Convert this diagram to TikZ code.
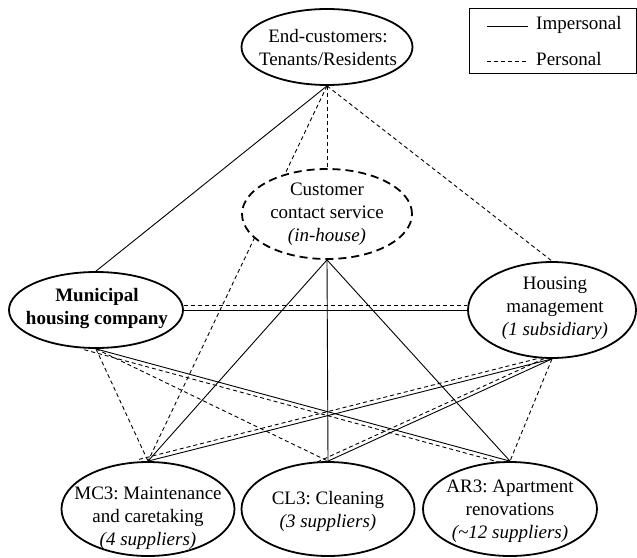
\documentclass[tikz,border=0pt]{standalone}
\usepackage{fontspec}
\setmainfont{Liberation Serif}
\usetikzlibrary{shapes.geometric,backgrounds,calc}
\frenchspacing
\begin{document}
\begin{tikzpicture}[x=1pt,y=-1pt,
  actor/.style={ellipse, draw, line width=1.8pt, fill=white, inner sep=0pt},
  inhouse/.style={actor, dash pattern=on 8pt off 5pt},
  lbl/.style={align=center, inner sep=0pt, font=\fontsize{19}{23}\selectfont},
  impersonal/.style={line width=0.9pt},
  personal/.style={line width=0.9pt, dash pattern=on 4pt off 3pt},
  pair/.style={shorten <=-12pt, shorten >=-12pt}]
\useasboundingbox (0,0) rectangle (637,557);

% actors
\node[actor, minimum width=171pt, minimum height=76pt] (ec) at (327,47) {};
\node[inhouse, minimum width=170pt, minimum height=90pt] (ccs) at (327,214) {};
\node[actor, minimum width=174pt, minimum height=76pt] (mhc) at (96,310) {};
\node[actor, minimum width=168pt, minimum height=96pt] (hm) at (552,310) {};
\node[actor, minimum width=173pt, minimum height=94pt] (mc3) at (148,509) {};
\node[actor, minimum width=173pt, minimum height=94pt] (cl3) at (328,509) {};
\node[actor, minimum width=174pt, minimum height=94pt] (ar3) at (510,509) {};

% labels
\node[lbl] (ect) at (328,47) {End-customers:\\Tenants/Residents};
\node[lbl] (ccst) at (327,214) {Customer\\contact service\\\textit{(in-house)}};
\node[lbl] (mhct) at (97,308) {\textbf{Municipal}\\\textbf{housing company}};
\node[lbl] (hmt) at (555,308) {Housing\\management\\\textit{(1 subsidiary)}};
\node[lbl] (mc3t) at (148,518) {MC3: Maintenance\\and caretaking\\\textit{(4 suppliers)}};
\node[lbl] (cl3t) at (328,511) {CL3: Cleaning\\\textit{(3 suppliers)}};
\node[lbl] (ar3t) at (510,511) {AR3: Apartment\\renovations\\\textit{(\textasciitilde12 suppliers)}};

% relationships
\begin{pgfonlayer}{background}
  % end-customers
  \draw[impersonal] (ec.south) -- (mhc.north);
  \draw[personal] (ec.south) -- (ccs.north);
  \draw[personal] (ec.south) -- (mc3.north);
  \draw[personal] (ec.south) -- (hm.north);
  % municipal housing company
  \draw[impersonal] (mhc.east) -- (hm.west);
  \draw[personal] ([yshift=5pt]mhc.east) -- ([yshift=5pt]hm.west);
  \draw[personal] (mhc.south) -- (mc3.north);
  \draw[personal] (mhc.south) -- (cl3.north);
  \draw[impersonal] (mhc.south) -- (ar3.north);
  \draw[personal, pair] ([yshift=-4pt]mhc.south) -- ([yshift=-4pt]ar3.north);
  % customer contact service
  \draw[impersonal] (ccs.south) -- (mc3.north);
  \draw[impersonal] (ccs.south) -- (cl3.north);
  \draw[impersonal] (ccs.south) -- (ar3.north);
  % housing management
  \draw[impersonal] (hm.south) -- (mc3.north);
  \draw[personal, pair] ([yshift=4pt]hm.south) -- ([yshift=4pt]mc3.north);
  \draw[impersonal] (hm.south) -- (cl3.north);
  \draw[personal, pair] ([yshift=4pt]hm.south) -- ([yshift=4pt]cl3.north);
  \draw[personal] (hm.south) -- (ar3.north);
\end{pgfonlayer}

% legend
\node[draw, line width=1pt, minimum width=167pt, minimum height=65pt, inner sep=0pt] (key) at (552.5,40.5) {};
\coordinate (ka) at (487,26);
\coordinate (kb) at (528,26);
\coordinate (kc) at (487,61);
\coordinate (kd) at (528,61);
\draw[impersonal] (ka) -- (kb);
\draw[personal] (kc) -- (kd);
\node[lbl, anchor=west] (kimp) at (536,25) {Impersonal};
\node[lbl, anchor=west] (kper) at (536,59) {Personal};
\end{tikzpicture}
\end{document}
